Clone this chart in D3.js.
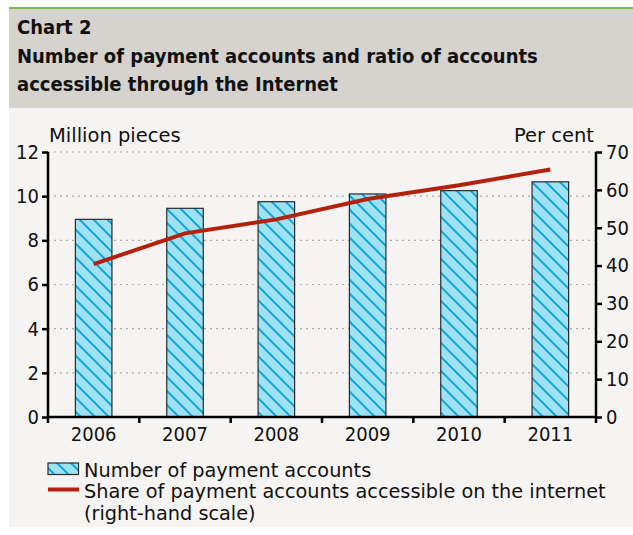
<!DOCTYPE html>
<html><head><meta charset="utf-8">
<script src="https://cdn.jsdelivr.net/npm/d3@7/dist/d3.min.js"></script>
<style>
html,body{margin:0;padding:0;background:#fff;}
svg{display:block;}
</style></head>
<body>
<script>
const years = ["2006","2007","2008","2009","2010","2011"];
const accounts = [8.95, 9.45, 9.75, 10.1, 10.25, 10.65];
const internetShare = [40.4, 48.5, 52.2, 57.6, 61.2, 65.4];
const leftTicks = [0,2,4,6,8,10,12];
const rightTicks = [0,10,20,30,40,50,60,70];

const W = 633, H = 535;
const COND = "'DejaVu Sans Condensed', 'DejaVu Sans', sans-serif";
const REG = "'DejaVu Sans', sans-serif";
const svg = d3.select("body").append("svg").attr("width", W).attr("height", H)
  .style("font-family", REG);

// panel backgrounds
svg.append("rect").attr("x", 9).attr("y", 108).attr("width", W - 9).attr("height", 419).attr("fill", "#f5f4f2");
svg.append("rect").attr("x", 9).attr("y", 8.5).attr("width", W - 9).attr("height", 99.5).attr("fill", "#d6d2cd");
svg.append("rect").attr("x", 9).attr("y", 7).attr("width", W - 9).attr("height", 2).attr("fill", "#7dbb42");

const titles = [
  {t: "Chart 2", y: 34},
  {t: "Number of payment accounts and ratio of accounts", y: 63},
  {t: "accessible through the Internet", y: 91}
];
svg.append("g").selectAll("text").data(titles).join("text")
  .attr("x", 17).attr("y", d => d.y).attr("font-size", 20).attr("font-weight", "bold")
  .attr("font-family", COND).attr("fill", "#111").text(d => d.t);

// pattern
const defs = svg.append("defs");
const pat = defs.append("pattern").attr("id", "hatch").attr("patternUnits", "userSpaceOnUse")
  .attr("width", 14).attr("height", 14);
pat.append("rect").attr("width", 14).attr("height", 14).attr("fill", "#9fe2f4");
pat.append("path").attr("d", "M-3.5,10.5 L3.5,17.5 M0,0 L14,14 M10.5,-3.5 L17.5,3.5")
  .attr("stroke", "#14a6d6").attr("stroke-width", 2);

const pL = 48, pR = 596, pT = 152, pB = 417;
const x = d3.scaleBand().domain(years).range([pL, pR]).paddingInner(0.6).paddingOuter(0.3);
const xb = d3.scaleBand().domain(years).range([pL, pR]);
const yL = d3.scaleLinear().domain([0, 12]).range([pB, pT]);
const yR = d3.scaleLinear().domain([0, 70]).range([pB, pT]);

// gridlines
svg.append("g").selectAll("line").data(leftTicks.filter(d => d > 0)).join("line")
  .attr("x1", pL).attr("x2", pR).attr("y1", d => yL(d)).attr("y2", d => yL(d))
  .attr("stroke", "#a9a9a9").attr("stroke-width", 1.2).attr("stroke-dasharray", "2,4");

// bars
svg.append("g").selectAll("rect").data(accounts).join("rect")
  .attr("x", (d, i) => x(years[i])).attr("width", x.bandwidth())
  .attr("y", d => yL(d)).attr("height", d => pB - yL(d))
  .attr("fill", "url(#hatch)").attr("stroke", "#2a2a2a").attr("stroke-width", 1.2);

// line
const line = d3.line().x((d, i) => xb(years[i]) + xb.bandwidth() / 2).y(d => yR(d));
svg.append("path").datum(internetShare).attr("d", line)
  .attr("fill", "none").attr("stroke", "#b5200d").attr("stroke-width", 4);

// axes
const axL = svg.append("g").attr("transform", `translate(${pL},0)`)
  .call(d3.axisLeft(yL).tickValues(leftTicks).tickSize(6).tickPadding(3));
const axR = svg.append("g").attr("transform", `translate(${pR},0)`)
  .call(d3.axisRight(yR).tickValues(rightTicks).tickSize(6).tickPadding(4));
const axB = svg.append("g").attr("transform", `translate(0,${pB})`)
  .call(d3.axisBottom(xb).tickSize(0).tickPadding(10));
// boundary ticks on x axis
svg.append("g").selectAll("line").data(years.concat(["end"])).join("line")
  .attr("x1", (d, i) => pL + i * xb.step()).attr("x2", (d, i) => pL + i * xb.step())
  .attr("y1", pB).attr("y2", pB + 6).attr("stroke", "#000").attr("stroke-width", 2.5);

[axL, axR, axB].forEach(a => {
  a.select(".domain").attr("stroke", "#000").attr("stroke-width", 2.5);
  a.selectAll(".tick line").attr("stroke", "#000").attr("stroke-width", 2.5);
  a.selectAll(".tick text").attr("font-size", 20).attr("font-family", COND).attr("fill", "#111");
});
axB.select(".domain").attr("d", `M${pL},0H${pR}`);
axL.select(".domain").attr("d", `M0,${pT}V${pB}`);
axR.select(".domain").attr("d", `M0,${pT}V${pB}`);
axB.selectAll(".tick text").attr("dy", "0.71em");

svg.append("text").attr("x", 49).attr("y", 142).attr("font-size", 19.5).attr("fill", "#111").text("Million pieces");
svg.append("text").attr("x", 594).attr("y", 142).attr("font-size", 19.5).attr("text-anchor", "end").attr("fill", "#111").text("Per cent");

// legend
svg.append("rect").attr("x", 48).attr("y", 463).attr("width", 30.5).attr("height", 11.5)
  .attr("fill", "url(#hatch)").attr("stroke", "#2a2a2a").attr("stroke-width", 1.2);
svg.append("line").attr("x1", 48).attr("x2", 79).attr("y1", 489.5).attr("y2", 489.5)
  .attr("stroke", "#b5200d").attr("stroke-width", 4);
const lg = [
  {t: "Number of payment accounts", y: 477},
  {t: "Share of payment accounts accessible on the internet", y: 498},
  {t: "(right-hand scale)", y: 519.5}
];
svg.append("g").selectAll("text").data(lg).join("text")
  .attr("x", 84).attr("y", d => d.y).attr("font-size", 19.3).attr("fill", "#111").text(d => d.t);
</script>
</body></html>
